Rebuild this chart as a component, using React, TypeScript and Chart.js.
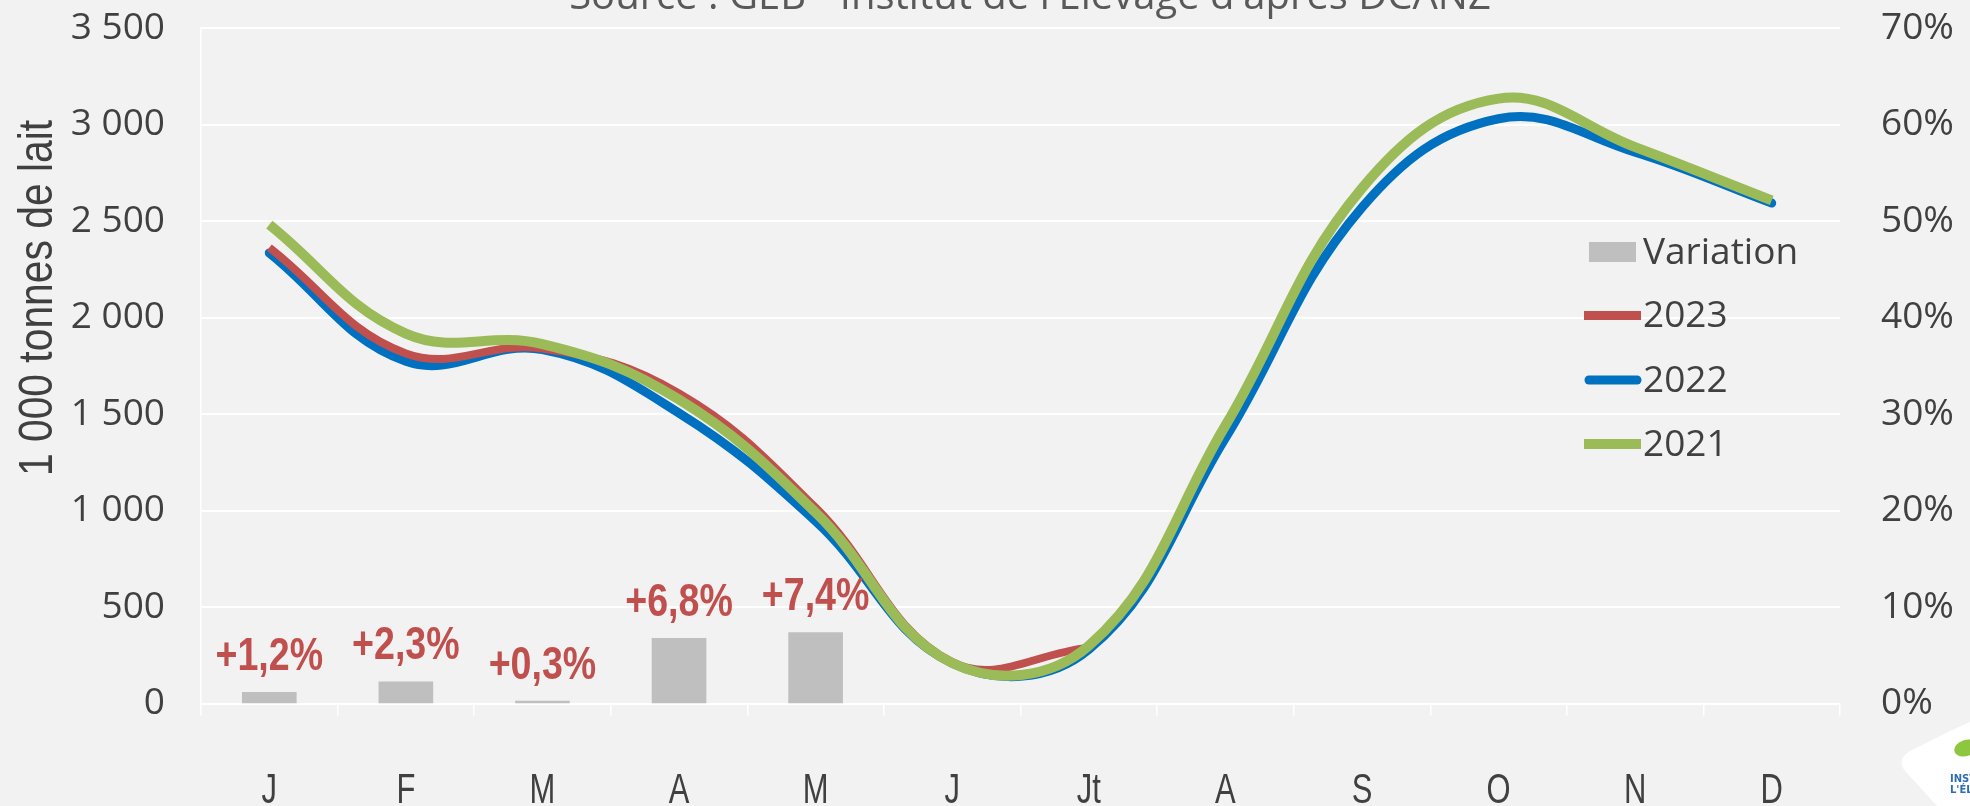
import React, { useEffect, useRef } from 'react';
import { Chart, registerables } from 'chart.js';

Chart.register(...registerables);

const months = ['J', 'F', 'M', 'A', 'M', 'J', 'Jt', 'A', 'S', 'O', 'N', 'D'];
const variation = [1.2, 2.3, 0.3, 6.8, 7.4, null, null, null, null, null, null, null];
const variationLabels = ['+1,2%', '+2,3%', '+0,3%', '+6,8%', '+7,4%', '', '', '', '', '', '', ''];
const milk2023 = [2362, 1814, 1840, 1607, 1015, 215, 290, null, null, null, null, null];
const milk2022 = [2335, 1773, 1834, 1505, 945, 210, 280, 1375, 2570, 3030, 2857, 2593];
const milk2021 = [2481, 1917, 1862, 1575, 990, 210, 300, 1440, 2670, 3134, 2883, 2607];
const leftTicks = [0, 500, 1000, 1500, 2000, 2500, 3000, 3500];
const rightTicks = [0, 10, 20, 30, 40, 50, 60, 70];
const titleText = "Source : GEB - Institut de l'Élevage d'après DCANZ";
const yTitleText = '1 000 tonnes de lait';
const legendItems = ['Variation', '2023', '2022', '2021'];

const RED = '#C0504D';
const BLUE = '#0070C0';
const GREEN = '#9BBB59';
const GREY = '#BFBFBF';
const TEXT = '#404040';
const SANS = '"Open Sans", "DejaVu Sans", sans-serif';
const ARIAL = '"Liberation Sans", Arial, sans-serif';

const fmtThousands = (v: number) => {
  if (v < 1000) return String(v);
  const k = Math.floor(v / 1000);
  const r = String(v % 1000).padStart(3, '0');
  return k + ' ' + r;
};

// draw horizontally condensed text
const narrowText = (ctx: any, text: string, x: number, y: number, sx: number) => {
  ctx.save();
  ctx.translate(x, y);
  ctx.scale(sx, 1);
  ctx.fillText(text, 0, 0);
  ctx.restore();
};

const decorPlugin = {
  id: 'decor',
  beforeDraw(chart: any) {
    const { ctx, width, height } = chart;
    ctx.save();
    ctx.fillStyle = '#F2F2F2';
    ctx.fillRect(0, 0, width, height);
    ctx.restore();
  },
  afterDatasetsDraw(chart: any) {
    const { ctx } = chart;
    const meta = chart.getDatasetMeta(0);
    ctx.save();
    ctx.fillStyle = RED;
    ctx.font = 'bold 47px ' + ARIAL;
    ctx.textAlign = 'center';
    ctx.textBaseline = 'middle';
    meta.data.forEach((el: any, i: number) => {
      const lab = variationLabels[i];
      if (!lab || variation[i] == null) return;
      narrowText(ctx, lab, el.x, el.y - 35, 0.8);
    });
    ctx.restore();
  },
  afterDraw(chart: any) {
    const { ctx } = chart;
    ctx.save();
    // cut-off title at the very top
    ctx.fillStyle = '#595959';
    ctx.font = '40px ' + SANS;
    ctx.textAlign = 'center';
    ctx.textBaseline = 'alphabetic';
    ctx.fillText(titleText, 1030, 9);

    // month labels
    const xs = chart.scales.x;
    ctx.fillStyle = TEXT;
    ctx.font = '43px ' + ARIAL;
    ctx.textAlign = 'center';
    ctx.textBaseline = 'alphabetic';
    months.forEach((m, i) => {
      narrowText(ctx, m, xs.getPixelForTick(i), 803, 0.72);
    });

    // y axis title
    ctx.save();
    ctx.translate(52, 298);
    ctx.rotate(-Math.PI / 2);
    ctx.fillStyle = TEXT;
    ctx.font = '48px ' + ARIAL;
    ctx.textAlign = 'center';
    ctx.textBaseline = 'alphabetic';
    ctx.scale(0.85, 1);
    ctx.fillText(yTitleText, 0, 0);
    ctx.restore();

    // legend
    ctx.font = '37px ' + SANS;
    ctx.textAlign = 'left';
    ctx.textBaseline = 'middle';
    const rows = [252, 315.5, 380, 444];
    ctx.fillStyle = GREY;
    ctx.fillRect(1589, 242, 47, 20);
    ctx.lineCap = 'butt';
    ctx.strokeStyle = RED;
    ctx.lineWidth = 9;
    ctx.beginPath();
    ctx.moveTo(1584, rows[1]);
    ctx.lineTo(1641, rows[1]);
    ctx.stroke();
    ctx.strokeStyle = BLUE;
    ctx.lineCap = 'round';
    ctx.beginPath();
    ctx.moveTo(1589, rows[2]);
    ctx.lineTo(1637, rows[2]);
    ctx.stroke();
    ctx.lineCap = 'butt';
    ctx.strokeStyle = GREEN;
    ctx.lineWidth = 10;
    ctx.beginPath();
    ctx.moveTo(1584, rows[3]);
    ctx.lineTo(1641, rows[3]);
    ctx.stroke();
    ctx.fillStyle = TEXT;
    legendItems.forEach((t, i) => ctx.fillText(t, 1643, rows[i] + 1));

    // logo (cut off at the corner)
    ctx.fillStyle = '#FFFFFF';
    ctx.beginPath();
    ctx.moveTo(1970, 722);
    ctx.lineTo(1950, 731);
    ctx.lineTo(1908, 752);
    ctx.quadraticCurveTo(1896, 762, 1906, 772);
    ctx.lineTo(1937, 806);
    ctx.lineTo(1970, 806);
    ctx.closePath();
    ctx.fill();
    ctx.fillStyle = '#8DC63F';
    ctx.beginPath();
    ctx.ellipse(1966, 748, 12, 8, -0.3, 0, Math.PI * 2);
    ctx.fill();
    ctx.fillStyle = '#2E6DB4';
    ctx.font = 'bold 10px "DejaVu Sans", sans-serif';
    ctx.textAlign = 'left';
    ctx.textBaseline = 'alphabetic';
    ctx.fillText('INSTITUT DE', 1950, 782);
    ctx.fillText("L'ÉLEVAGE", 1950, 793);
    ctx.restore();
  },
};

export default function App() {
  const ref = useRef<HTMLCanvasElement | null>(null);

  useEffect(() => {
    if (!ref.current) return;
    const chart = new Chart(ref.current, {
      type: 'bar',
      data: {
        labels: months,
        datasets: [
          {
            type: 'bar',
            label: 'Variation',
            data: variation,
            yAxisID: 'y1',
            backgroundColor: GREY,
            categoryPercentage: 1,
            barPercentage: 0.4,
            order: 4,
          } as any,
          {
            type: 'line',
            label: '2022',
            data: milk2022,
            yAxisID: 'y',
            borderColor: BLUE,
            borderWidth: 9,
            borderCapStyle: 'round',
            pointRadius: 0,
            tension: 0.4,
            fill: false,
            order: 3,
          },
          {
            type: 'line',
            label: '2023',
            data: milk2023,
            yAxisID: 'y',
            borderColor: RED,
            borderWidth: 8,
            pointRadius: 0,
            tension: 0.4,
            fill: false,
            spanGaps: false,
            order: 2,
          },
          {
            type: 'line',
            label: '2021',
            data: milk2021,
            yAxisID: 'y',
            borderColor: GREEN,
            borderWidth: 10,
            pointRadius: 0,
            tension: 0.4,
            fill: false,
            order: 1,
          },
        ],
      },
      options: {
        animation: false,
        responsive: true,
        maintainAspectRatio: false,
        devicePixelRatio: 1,
        layout: { padding: { top: 28, left: 0, right: 0, bottom: 0 } },
        plugins: {
          legend: { display: false },
          tooltip: { enabled: false },
          title: { display: false },
        },
        scales: {
          x: {
            type: 'category',
            offset: true,
            grid: {
              offset: true,
              drawOnChartArea: false,
              drawTicks: true,
              tickLength: 12,
              color: '#FFFFFF',
              lineWidth: 1.5,
            },
            border: { display: true, color: '#FFFFFF', width: 2 },
            ticks: { display: false },
            afterFit: (s: any) => {
              s.height = 102.4;
              s.paddingLeft = 0;
              s.paddingRight = 0;
            },
          },
          y: {
            position: 'left',
            min: 0,
            max: 3500,
            afterBuildTicks: (s: any) => {
              s.ticks = leftTicks.map((v) => ({ value: v }));
            },
            ticks: {
              color: TEXT,
              font: { family: SANS, size: 37 },
              padding: 36,
              callback: (v: any) => fmtThousands(Number(v)),
            },
            grid: { color: '#FFFFFF', lineWidth: 2, drawTicks: false },
            border: { display: true, color: '#FFFFFF', width: 1.5 },
            afterFit: (s: any) => {
              s.width = 201;
              s.paddingTop = 0;
              s.paddingBottom = 0;
            },
          },
          y1: {
            position: 'right',
            min: 0,
            max: 70,
            afterBuildTicks: (s: any) => {
              s.ticks = rightTicks.map((v) => ({ value: v }));
            },
            ticks: {
              color: TEXT,
              font: { family: SANS, size: 37 },
              padding: 41,
              callback: (v: any) => v + '%',
            },
            grid: { display: false, drawTicks: false },
            border: { display: false },
            afterFit: (s: any) => {
              s.width = 130;
              s.paddingTop = 0;
              s.paddingBottom = 0;
            },
          },
        },
      },
      plugins: [decorPlugin],
    });
    return () => chart.destroy();
  }, []);

  return (
    <div
      style={{
        position: 'fixed',
        left: 0,
        top: 0,
        width: 1970,
        height: 806,
        background: '#F2F2F2',
      }}
    >
      <canvas ref={ref} />
    </div>
  );
}
